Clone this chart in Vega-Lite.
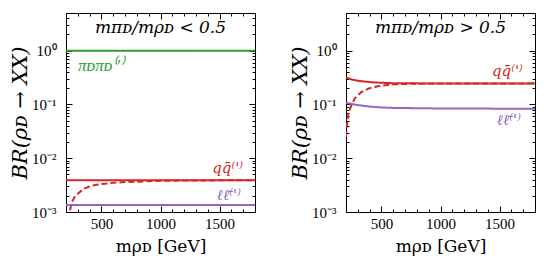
{
  "$schema": "https://vega.github.io/schema/vega-lite/v6.json",
  "background": "white",
  "padding": {"left": 9, "top": 10, "right": 5, "bottom": 5},
  "config": {
    "view": {"stroke": "black", "strokeWidth": 1},
    "axis": {"domain": false, "grid": false, "tickColor": "black", "tickWidth": 1, "labelColor": "black", "titleColor": "black", "labelFont": "Liberation Serif", "labelFontSize": 15, "titleFont": "DejaVu Serif", "titleFontWeight": "normal", "labelOverlap": false, "labelFlush": false, "labelBound": false}
  },
  "datasets": {
    "curves": [
      {"panel": "A", "series": "pipi", "style": "solid", "x": 200, "y": 0.99},
      {"panel": "A", "series": "pipi", "style": "solid", "x": 1800, "y": 0.99},
      {"panel": "A", "series": "qq", "style": "solid", "x": 200, "y": 0.0039},
      {"panel": "A", "series": "qq", "style": "solid", "x": 1800, "y": 0.0039},
      {"panel": "A", "series": "qq", "style": "dashed", "x": 220, "y": 0.0005},
      {"panel": "A", "series": "qq", "style": "dashed", "x": 231, "y": 0.001},
      {"panel": "A", "series": "qq", "style": "dashed", "x": 245, "y": 0.0014},
      {"panel": "A", "series": "qq", "style": "dashed", "x": 260, "y": 0.0017},
      {"panel": "A", "series": "qq", "style": "dashed", "x": 280, "y": 0.002},
      {"panel": "A", "series": "qq", "style": "dashed", "x": 302, "y": 0.0022},
      {"panel": "A", "series": "qq", "style": "dashed", "x": 350, "y": 0.0027},
      {"panel": "A", "series": "qq", "style": "dashed", "x": 415, "y": 0.0031},
      {"panel": "A", "series": "qq", "style": "dashed", "x": 500, "y": 0.0033},
      {"panel": "A", "series": "qq", "style": "dashed", "x": 600, "y": 0.0035},
      {"panel": "A", "series": "qq", "style": "dashed", "x": 700, "y": 0.0036},
      {"panel": "A", "series": "qq", "style": "dashed", "x": 850, "y": 0.0037},
      {"panel": "A", "series": "qq", "style": "dashed", "x": 1000, "y": 0.0038},
      {"panel": "A", "series": "qq", "style": "dashed", "x": 1200, "y": 0.00385},
      {"panel": "A", "series": "qq", "style": "dashed", "x": 1800, "y": 0.0039},
      {"panel": "A", "series": "ll", "style": "solid", "x": 200, "y": 0.00135},
      {"panel": "A", "series": "ll", "style": "solid", "x": 1800, "y": 0.00135},
      {"panel": "B", "series": "qq", "style": "solid", "x": 200, "y": 0.315},
      {"panel": "B", "series": "qq", "style": "solid", "x": 250, "y": 0.29},
      {"panel": "B", "series": "qq", "style": "solid", "x": 300, "y": 0.275},
      {"panel": "B", "series": "qq", "style": "solid", "x": 400, "y": 0.26},
      {"panel": "B", "series": "qq", "style": "solid", "x": 500, "y": 0.252},
      {"panel": "B", "series": "qq", "style": "solid", "x": 600, "y": 0.248},
      {"panel": "B", "series": "qq", "style": "solid", "x": 800, "y": 0.246},
      {"panel": "B", "series": "qq", "style": "solid", "x": 1000, "y": 0.245},
      {"panel": "B", "series": "qq", "style": "solid", "x": 1800, "y": 0.245},
      {"panel": "B", "series": "qq", "style": "dashed", "x": 200, "y": 0.025},
      {"panel": "B", "series": "qq", "style": "dashed", "x": 210, "y": 0.045},
      {"panel": "B", "series": "qq", "style": "dashed", "x": 222, "y": 0.07},
      {"panel": "B", "series": "qq", "style": "dashed", "x": 245, "y": 0.095},
      {"panel": "B", "series": "qq", "style": "dashed", "x": 275, "y": 0.13},
      {"panel": "B", "series": "qq", "style": "dashed", "x": 330, "y": 0.17},
      {"panel": "B", "series": "qq", "style": "dashed", "x": 400, "y": 0.2},
      {"panel": "B", "series": "qq", "style": "dashed", "x": 471, "y": 0.218},
      {"panel": "B", "series": "qq", "style": "dashed", "x": 550, "y": 0.23},
      {"panel": "B", "series": "qq", "style": "dashed", "x": 612, "y": 0.236},
      {"panel": "B", "series": "qq", "style": "dashed", "x": 700, "y": 0.24},
      {"panel": "B", "series": "qq", "style": "dashed", "x": 800, "y": 0.243},
      {"panel": "B", "series": "qq", "style": "dashed", "x": 1000, "y": 0.245},
      {"panel": "B", "series": "qq", "style": "dashed", "x": 1800, "y": 0.246},
      {"panel": "B", "series": "ll", "style": "solid", "x": 200, "y": 0.107},
      {"panel": "B", "series": "ll", "style": "solid", "x": 300, "y": 0.097},
      {"panel": "B", "series": "ll", "style": "solid", "x": 400, "y": 0.091},
      {"panel": "B", "series": "ll", "style": "solid", "x": 500, "y": 0.088},
      {"panel": "B", "series": "ll", "style": "solid", "x": 600, "y": 0.086},
      {"panel": "B", "series": "ll", "style": "solid", "x": 800, "y": 0.085},
      {"panel": "B", "series": "ll", "style": "solid", "x": 1000, "y": 0.084},
      {"panel": "B", "series": "ll", "style": "solid", "x": 1800, "y": 0.083}
    ],
    "labels": [
      {"panel": "A", "series": "pipi", "label": "πᴅπᴅ⁽'⁾", "x": 302, "y": 0.52},
      {"panel": "A", "series": "qq", "label": "qq̄⁽'⁾", "x": 1698, "y": 0.0066},
      {"panel": "A", "series": "ll", "label": "ℓℓ̄⁽'⁾", "x": 1680, "y": 0.0021},
      {"panel": "B", "series": "qq", "label": "qq̄⁽'⁾", "x": 1696, "y": 0.42},
      {"panel": "B", "series": "ll", "label": "ℓℓ̄⁽'⁾", "x": 1680, "y": 0.051}
    ],
    "titles": [
      {"panel": "A", "text": "mπᴅ/mρᴅ < 0.5", "x": 1000, "y": 2.6},
      {"panel": "B", "text": "mπᴅ/mρᴅ > 0.5", "x": 1000, "y": 2.6}
    ]
  },
  "spacing": 33,
  "hconcat": [
    {
      "width": 189,
      "height": 199,
      "layer": [
        {
          "data": {"name": "curves"},
          "transform": [{"filter": "datum.panel == 'A'"}],
          "mark": {"type": "line", "clip": true, "strokeWidth": 2},
          "encoding": {
            "x": {"field": "x", "type": "quantitative", "scale": {"domain": [200, 1800], "nice": false, "zero": false},
              "axis": {"orient": "bottom", "values": [200,300,400,500,600,700,800,900,1000,1100,1200,1300,1400,1500,1600,1700,1800], "labelExpr": "datum.value % 500 == 0 ? format(datum.value, 'd') : ''", "tickSize": {"condition": {"test": "datum.value % 500 == 0", "value": -6}, "value": -3}, "labelPadding": 10, "title": "mρᴅ [GeV]", "titleFontSize": 17, "titlePadding": 4}},
            "y": {"field": "y", "type": "quantitative", "scale": {"type": "log", "domain": [0.001, 5], "nice": false},
              "axis": {"orient": "left", "values": [0.001,0.002,0.003,0.004,0.005,0.006,0.007,0.008,0.009,0.01,0.02,0.03,0.04,0.05,0.06,0.07,0.08,0.09,0.1,0.2,0.3,0.4,0.5,0.6,0.7,0.8,0.9,1,2,3,4], "labelExpr": "datum.value == 1 ? '10⁰' : datum.value == 0.1 ? '10⁻¹' : datum.value == 0.01 ? '10⁻²' : datum.value == 0.001 ? '10⁻³' : ''", "tickSize": {"condition": {"test": "indexof([0.001, 0.01, 0.1, 1], datum.value) >= 0", "value": -6}, "value": -3}, "labelPadding": 16, "title": "BR(ρᴅ → XX)", "titleFontSize": 21, "titleFontStyle": "italic", "titlePadding": 1}},
            "color": {"field": "series", "type": "nominal", "scale": {"domain": ["pipi", "qq", "ll"], "range": ["#2ca02c", "#d62728", "#9467bd"]}, "legend": null},
            "strokeDash": {"field": "style", "type": "nominal", "scale": {"domain": ["solid", "dashed"], "range": [[1, 0], [6, 3]]}, "legend": null}
          }
        },
        {
          "data": {"name": "labels"},
          "transform": [{"filter": "datum.panel == 'A' && datum.series != 'pipi'"}],
          "mark": {"type": "text", "align": "right", "baseline": "middle", "font": "DejaVu Serif", "fontStyle": "italic", "fontSize": 15},
          "encoding": {
            "x": {"field": "x", "type": "quantitative", "scale": {"domain": [200, 1800], "nice": false, "zero": false},
              "axis": {"orient": "top", "values": [200,300,400,500,600,700,800,900,1000,1100,1200,1300,1400,1500,1600,1700,1800], "labels": false, "title": null, "tickSize": {"condition": {"test": "datum.value % 500 == 0", "value": -6}, "value": -3}}},
            "y": {"field": "y", "type": "quantitative", "scale": {"type": "log", "domain": [0.001, 5], "nice": false},
              "axis": {"orient": "right", "values": [0.001,0.002,0.003,0.004,0.005,0.006,0.007,0.008,0.009,0.01,0.02,0.03,0.04,0.05,0.06,0.07,0.08,0.09,0.1,0.2,0.3,0.4,0.5,0.6,0.7,0.8,0.9,1,2,3,4], "labels": false, "title": null, "tickSize": {"condition": {"test": "indexof([0.001, 0.01, 0.1, 1], datum.value) >= 0", "value": -6}, "value": -3}}},
            "text": {"field": "label", "type": "nominal"},
            "color": {"field": "series", "type": "nominal", "scale": {"domain": ["pipi", "qq", "ll"], "range": ["#2ca02c", "#d62728", "#9467bd"]}, "legend": null}
          }
        },
        {
          "data": {"name": "labels"},
          "transform": [{"filter": "datum.panel == 'A' && datum.series == 'pipi'"}],
          "mark": {"type": "text", "align": "left", "baseline": "middle", "font": "Liberation Serif", "fontStyle": "italic", "fontSize": 17},
          "encoding": {
            "x": {"field": "x", "type": "quantitative", "scale": {"domain": [200, 1800], "nice": false, "zero": false}, "axis": null},
            "y": {"field": "y", "type": "quantitative", "scale": {"type": "log", "domain": [0.001, 5], "nice": false}, "axis": null},
            "text": {"field": "label", "type": "nominal"},
            "color": {"field": "series", "type": "nominal", "scale": {"domain": ["pipi", "qq", "ll"], "range": ["#2ca02c", "#d62728", "#9467bd"]}, "legend": null}
          }
        },
        {
          "data": {"name": "titles"},
          "transform": [{"filter": "datum.panel == 'A'"}],
          "mark": {"type": "text", "align": "center", "baseline": "middle", "font": "DejaVu Serif", "fontStyle": "italic", "fontSize": 17, "color": "black"},
          "encoding": {
            "x": {"field": "x", "type": "quantitative", "scale": {"domain": [200, 1800], "nice": false, "zero": false}, "axis": null},
            "y": {"field": "y", "type": "quantitative", "scale": {"type": "log", "domain": [0.001, 5], "nice": false}, "axis": null},
            "text": {"field": "text", "type": "nominal"}
          }
        }
      ],
      "resolve": {"axis": {"x": "independent", "y": "independent"}}
    },
    {
      "width": 189,
      "height": 199,
      "layer": [
        {
          "data": {"name": "curves"},
          "transform": [{"filter": "datum.panel == 'B'"}],
          "mark": {"type": "line", "clip": true, "strokeWidth": 2},
          "encoding": {
            "x": {"field": "x", "type": "quantitative", "scale": {"domain": [200, 1800], "nice": false, "zero": false},
              "axis": {"orient": "bottom", "values": [200,300,400,500,600,700,800,900,1000,1100,1200,1300,1400,1500,1600,1700,1800], "labelExpr": "datum.value % 500 == 0 ? format(datum.value, 'd') : ''", "tickSize": {"condition": {"test": "datum.value % 500 == 0", "value": -6}, "value": -3}, "labelPadding": 10, "title": "mρᴅ [GeV]", "titleFontSize": 17, "titlePadding": 4}},
            "y": {"field": "y", "type": "quantitative", "scale": {"type": "log", "domain": [0.001, 5], "nice": false},
              "axis": {"orient": "left", "values": [0.001,0.002,0.003,0.004,0.005,0.006,0.007,0.008,0.009,0.01,0.02,0.03,0.04,0.05,0.06,0.07,0.08,0.09,0.1,0.2,0.3,0.4,0.5,0.6,0.7,0.8,0.9,1,2,3,4], "labelExpr": "datum.value == 1 ? '10⁰' : datum.value == 0.1 ? '10⁻¹' : datum.value == 0.01 ? '10⁻²' : datum.value == 0.001 ? '10⁻³' : ''", "tickSize": {"condition": {"test": "indexof([0.001, 0.01, 0.1, 1], datum.value) >= 0", "value": -6}, "value": -3}, "labelPadding": 16, "title": "BR(ρᴅ → XX)", "titleFontSize": 21, "titleFontStyle": "italic", "titlePadding": 1}},
            "color": {"field": "series", "type": "nominal", "scale": {"domain": ["pipi", "qq", "ll"], "range": ["#2ca02c", "#d62728", "#9467bd"]}, "legend": null},
            "strokeDash": {"field": "style", "type": "nominal", "scale": {"domain": ["solid", "dashed"], "range": [[1, 0], [6, 3]]}, "legend": null}
          }
        },
        {
          "data": {"name": "labels"},
          "transform": [{"filter": "datum.panel == 'B'"}],
          "mark": {"type": "text", "align": "right", "baseline": "middle", "font": "DejaVu Serif", "fontStyle": "italic", "fontSize": 15},
          "encoding": {
            "x": {"field": "x", "type": "quantitative", "scale": {"domain": [200, 1800], "nice": false, "zero": false},
              "axis": {"orient": "top", "values": [200,300,400,500,600,700,800,900,1000,1100,1200,1300,1400,1500,1600,1700,1800], "labels": false, "title": null, "tickSize": {"condition": {"test": "datum.value % 500 == 0", "value": -6}, "value": -3}}},
            "y": {"field": "y", "type": "quantitative", "scale": {"type": "log", "domain": [0.001, 5], "nice": false},
              "axis": {"orient": "right", "values": [0.001,0.002,0.003,0.004,0.005,0.006,0.007,0.008,0.009,0.01,0.02,0.03,0.04,0.05,0.06,0.07,0.08,0.09,0.1,0.2,0.3,0.4,0.5,0.6,0.7,0.8,0.9,1,2,3,4], "labels": false, "title": null, "tickSize": {"condition": {"test": "indexof([0.001, 0.01, 0.1, 1], datum.value) >= 0", "value": -6}, "value": -3}}},
            "text": {"field": "label", "type": "nominal"},
            "color": {"field": "series", "type": "nominal", "scale": {"domain": ["pipi", "qq", "ll"], "range": ["#2ca02c", "#d62728", "#9467bd"]}, "legend": null}
          }
        },
        {
          "data": {"name": "titles"},
          "transform": [{"filter": "datum.panel == 'B'"}],
          "mark": {"type": "text", "align": "center", "baseline": "middle", "font": "DejaVu Serif", "fontStyle": "italic", "fontSize": 17, "color": "black"},
          "encoding": {
            "x": {"field": "x", "type": "quantitative", "scale": {"domain": [200, 1800], "nice": false, "zero": false}, "axis": null},
            "y": {"field": "y", "type": "quantitative", "scale": {"type": "log", "domain": [0.001, 5], "nice": false}, "axis": null},
            "text": {"field": "text", "type": "nominal"}
          }
        }
      ],
      "resolve": {"axis": {"x": "independent", "y": "independent"}}
    }
  ]
}
